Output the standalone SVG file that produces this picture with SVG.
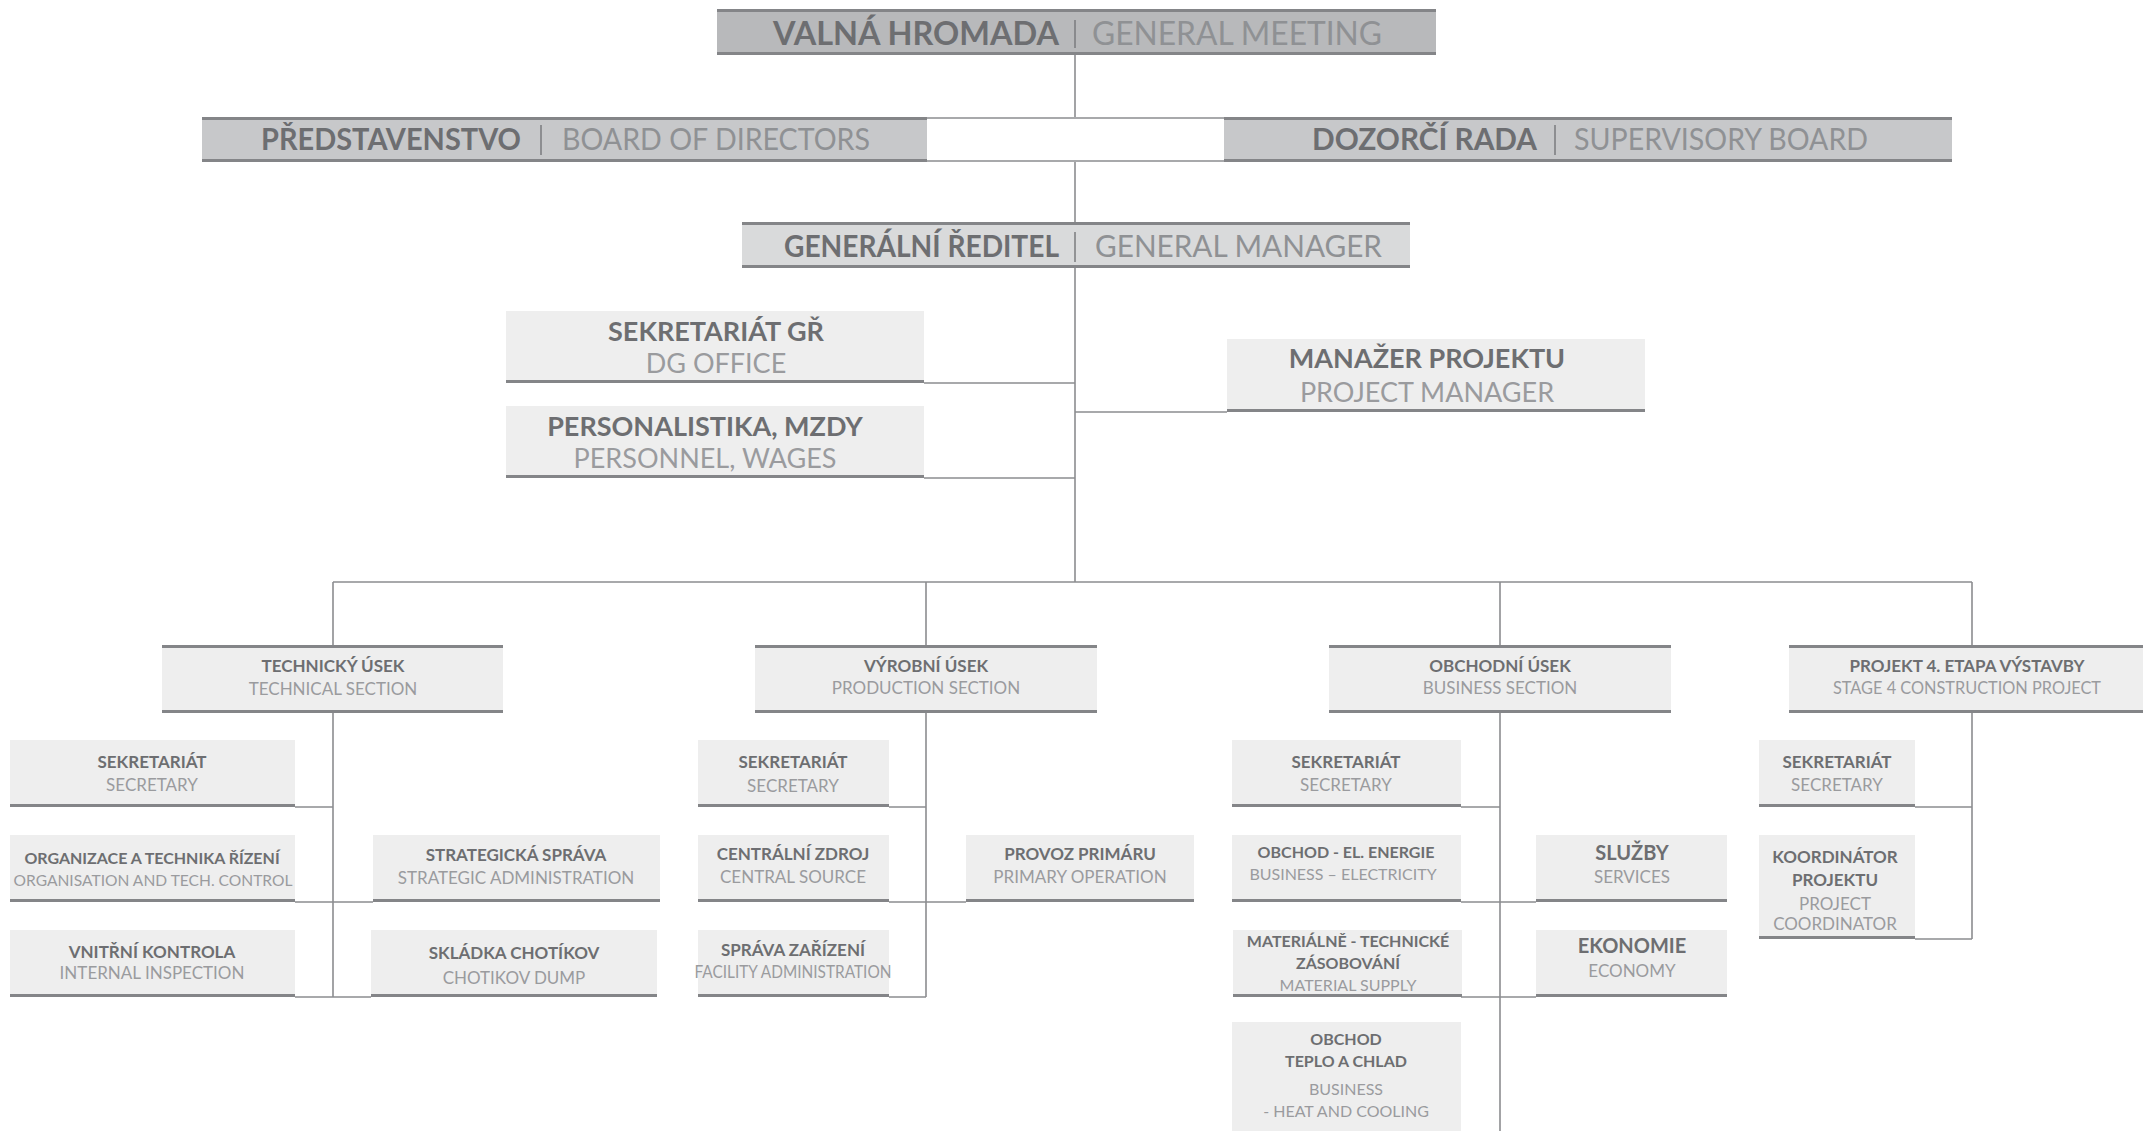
<svg xmlns="http://www.w3.org/2000/svg" width="2150" height="1131" viewBox="0 0 2150 1131">
<style>
text{font-family:Lato,"Open Sans","Liberation Sans",sans-serif;text-anchor:middle}
.cz{font-weight:700;fill:#6d6e71}
.en{font-weight:400;fill:#9a9b9e}
.ent{font-weight:400;fill:#8f9194}
.st{text-anchor:end}
.sl{text-anchor:start}
.t1{font-size:33px}
.t2{font-size:31px}
.t3{font-size:27px}
.t4{font-size:17px}
.t5{font-size:16px}
.t6{font-size:20px}
.bd{stroke:#848588;stroke-width:3;fill:none}
.sep{stroke:#7a7b7e;stroke-width:1.5}
.con path{stroke:#8c8d90;stroke-width:1.6;fill:none}
.f0{fill:#b8b9bb}.f1{fill:#c7c8ca}.f2{fill:#d9dadb}.f3{fill:#eeeeee}
</style>
<rect width="2150" height="1131" fill="#ffffff"/>
<g class="con" id="connectors">
<path d="M1075 55V117M1075 162V222M927 118H1224M927 161H1224M1075 268V582"/>
<path d="M924 383H1075M924 478H1075M1075 412H1227"/>
<path d="M333 582H1972M333 582V645M926 582V645M1500 582V645M1972 582V645"/>
<path d="M333 713V997M295 807H333M295 902H373M295 997H371"/>
<path d="M926 713V997M889 807H926M889 902H966M889 997H926"/>
<path d="M1500 713V1131M1461 807H1500M1461 902H1536M1461 997H1536"/>
<path d="M1972 713V939M1915 807H1972M1915 939H1972"/>
</g>
<g id="general-meeting">
<rect class="f0" x="717" y="9" width="719" height="46"/>
<path class="bd" d="M717 10.5H1436M717 53.5H1436"/>
<text class="cz t1 sl" x="773" y="45" textLength="286" lengthAdjust="spacingAndGlyphs">VALNÁ HROMADA</text>
<path class="sep" d="M1075 20V48"/>
<text class="ent t1 sl" x="1092" y="45" textLength="290" lengthAdjust="spacingAndGlyphs">GENERAL MEETING</text>
</g>
<g id="board-of-directors">
<rect class="f1" x="202" y="117" width="725" height="45"/>
<path class="bd" d="M202 118.5H927M202 160.5H927"/>
<text class="cz t2 sl" x="261" y="150" textLength="260" lengthAdjust="spacingAndGlyphs">PŘEDSTAVENSTVO</text>
<path class="sep" d="M541 125V155"/>
<text class="ent t2 sl" x="562" y="150" textLength="308" lengthAdjust="spacingAndGlyphs">BOARD OF DIRECTORS</text>
</g>
<g id="supervisory-board">
<rect class="f1" x="1224" y="117" width="728" height="45"/>
<path class="bd" d="M1224 118.5H1952M1224 160.5H1952"/>
<text class="cz t2 sl" x="1312" y="150" textLength="225" lengthAdjust="spacingAndGlyphs">DOZORČÍ RADA</text>
<path class="sep" d="M1555 125V155"/>
<text class="ent t2 sl" x="1574" y="150" textLength="294" lengthAdjust="spacingAndGlyphs">SUPERVISORY BOARD</text>
</g>
<g id="general-manager">
<rect class="f2" x="742" y="222" width="668" height="46"/>
<path class="bd" d="M742 223.5H1410M742 266.5H1410"/>
<text class="cz t2 sl" x="784" y="257" textLength="275" lengthAdjust="spacingAndGlyphs">GENERÁLNÍ ŘEDITEL</text>
<path class="sep" d="M1075 232V262"/>
<text class="ent t2 sl" x="1095" y="257" textLength="287" lengthAdjust="spacingAndGlyphs">GENERAL MANAGER</text>
</g>
<g id="dg-office">
<rect class="f3" x="506" y="311" width="418" height="72"/>
<path class="bd" d="M506 381.5H924"/>
<text class="cz t3" x="716" y="341">SEKRETARIÁT GŘ</text>
<text class="en t3" x="716" y="373">DG OFFICE</text>
</g>
<g id="personnel">
<rect class="f3" x="506" y="406" width="418" height="72"/>
<path class="bd" d="M506 476.5H924"/>
<text class="cz t3" x="705" y="436">PERSONALISTIKA, MZDY</text>
<text class="en t3" x="705" y="468">PERSONNEL, WAGES</text>
</g>
<g id="project-manager">
<rect class="f3" x="1227" y="339" width="418" height="73"/>
<path class="bd" d="M1227 410.5H1645"/>
<text class="cz t3" x="1427" y="368">MANAŽER PROJEKTU</text>
<text class="en t3" x="1427" y="402">PROJECT MANAGER</text>
</g>
<g id="technical-section">
<rect class="f3" x="162" y="645" width="341" height="68"/>
<path class="bd" d="M162 646.5H503M162 711.5H503"/>
<text class="cz t4" x="333" y="672">TECHNICKÝ ÚSEK</text>
<text class="en t4" x="333" y="695">TECHNICAL SECTION</text>
</g>
<g id="production-section">
<rect class="f3" x="755" y="645" width="342" height="68"/>
<path class="bd" d="M755 646.5H1097M755 711.5H1097"/>
<text class="cz t4" x="926" y="672">VÝROBNÍ ÚSEK</text>
<text class="en t4" x="926" y="694">PRODUCTION SECTION</text>
</g>
<g id="business-section">
<rect class="f3" x="1329" y="645" width="342" height="68"/>
<path class="bd" d="M1329 646.5H1671M1329 711.5H1671"/>
<text class="cz t4" x="1500" y="672">OBCHODNÍ ÚSEK</text>
<text class="en t4" x="1500" y="694">BUSINESS SECTION</text>
</g>
<g id="stage4-project">
<rect class="f3" x="1789" y="645" width="354" height="68"/>
<path class="bd" d="M1789 646.5H2143M1789 711.5H2143"/>
<text class="cz t4" x="1967" y="672">PROJEKT 4. ETAPA VÝSTAVBY</text>
<text class="en t4" x="1967" y="694" textLength="268" lengthAdjust="spacingAndGlyphs">STAGE 4 CONSTRUCTION PROJECT</text>
</g>
<g id="tech-secretary">
<rect class="f3" x="10" y="740" width="285" height="67"/>
<path class="bd" d="M10 805.5H295"/>
<text class="cz t4" x="152" y="768">SEKRETARIÁT</text>
<text class="en t4" x="152" y="791">SECRETARY</text>
</g>
<g id="tech-organisation">
<rect class="f3" x="10" y="835" width="285" height="67"/>
<path class="bd" d="M10 900.5H295"/>
<text class="cz t5" x="152" y="864">ORGANIZACE A TECHNIKA ŘÍZENÍ</text>
<text class="en t5" x="153" y="886" textLength="279" lengthAdjust="spacingAndGlyphs">ORGANISATION AND TECH. CONTROL</text>
</g>
<g id="tech-internal-inspection">
<rect class="f3" x="10" y="930" width="285" height="67"/>
<path class="bd" d="M10 995.5H295"/>
<text class="cz t4" x="152" y="958">VNITŘNÍ KONTROLA</text>
<text class="en t4" x="152" y="979">INTERNAL INSPECTION</text>
</g>
<g id="tech-strategic">
<rect class="f3" x="373" y="835" width="287" height="67"/>
<path class="bd" d="M373 900.5H660"/>
<text class="cz t4" x="516" y="861">STRATEGICKÁ SPRÁVA</text>
<text class="en t4" x="516" y="884">STRATEGIC ADMINISTRATION</text>
</g>
<g id="tech-dump">
<rect class="f3" x="371" y="930" width="286" height="67"/>
<path class="bd" d="M371 995.5H657"/>
<text class="cz t4" x="514" y="959">SKLÁDKA CHOTÍKOV</text>
<text class="en t4" x="514" y="984">CHOTIKOV DUMP</text>
</g>
<g id="prod-secretary">
<rect class="f3" x="698" y="740" width="191" height="67"/>
<path class="bd" d="M698 805.5H889"/>
<text class="cz t4" x="793" y="768">SEKRETARIÁT</text>
<text class="en t4" x="793" y="792">SECRETARY</text>
</g>
<g id="prod-central-source">
<rect class="f3" x="698" y="835" width="191" height="67"/>
<path class="bd" d="M698 900.5H889"/>
<text class="cz t4" x="793" y="860">CENTRÁLNÍ ZDROJ</text>
<text class="en t4" x="793" y="883">CENTRAL SOURCE</text>
</g>
<g id="prod-facility">
<rect class="f3" x="698" y="930" width="191" height="67"/>
<path class="bd" d="M698 995.5H889"/>
<text class="cz t4" x="793" y="956">SPRÁVA ZAŘÍZENÍ</text>
<text class="en t4" x="793" y="978" textLength="197" lengthAdjust="spacingAndGlyphs">FACILITY ADMINISTRATION</text>
</g>
<g id="prod-primary">
<rect class="f3" x="966" y="835" width="228" height="67"/>
<path class="bd" d="M966 900.5H1194"/>
<text class="cz t4" x="1080" y="860">PROVOZ PRIMÁRU</text>
<text class="en t4" x="1080" y="883">PRIMARY OPERATION</text>
</g>
<g id="bus-secretary">
<rect class="f3" x="1232" y="740" width="229" height="67"/>
<path class="bd" d="M1232 805.5H1461"/>
<text class="cz t4" x="1346" y="768">SEKRETARIÁT</text>
<text class="en t4" x="1346" y="791">SECRETARY</text>
</g>
<g id="bus-electricity">
<rect class="f3" x="1232" y="835" width="229" height="67"/>
<path class="bd" d="M1232 900.5H1461"/>
<text class="cz t5" x="1346" y="858">OBCHOD - EL. ENERGIE</text>
<text class="en t5" x="1343" y="880">BUSINESS – ELECTRICITY</text>
</g>
<g id="bus-material">
<rect class="f3" x="1233" y="930" width="229" height="67"/>
<path class="bd" d="M1233 995.5H1462"/>
<text class="cz t5" x="1348" y="947">MATERIÁLNĚ - TECHNICKÉ</text>
<text class="cz t5" x="1348" y="969">ZÁSOBOVÁNÍ</text>
<text class="en t5" x="1348" y="991">MATERIAL SUPPLY</text>
</g>
<g id="bus-heat">
<rect class="f3" x="1232" y="1022" width="229" height="109"/>
<text class="cz t5" x="1346" y="1045">OBCHOD</text>
<text class="cz t5" x="1346" y="1067">TEPLO A CHLAD</text>
<text class="en t5" x="1346" y="1095">BUSINESS</text>
<text class="en t5" x="1346" y="1117">- HEAT AND COOLING</text>
</g>
<g id="bus-services">
<rect class="f3" x="1536" y="835" width="191" height="67"/>
<path class="bd" d="M1536 900.5H1727"/>
<text class="cz t6" x="1632" y="860">SLUŽBY</text>
<text class="en t4" x="1632" y="883">SERVICES</text>
</g>
<g id="bus-economy">
<rect class="f3" x="1536" y="930" width="191" height="67"/>
<path class="bd" d="M1536 995.5H1727"/>
<text class="cz t6" x="1632" y="953">EKONOMIE</text>
<text class="en t4" x="1632" y="977">ECONOMY</text>
</g>
<g id="proj-secretary">
<rect class="f3" x="1759" y="740" width="156" height="67"/>
<path class="bd" d="M1759 805.5H1915"/>
<text class="cz t4" x="1837" y="768">SEKRETARIÁT</text>
<text class="en t4" x="1837" y="791">SECRETARY</text>
</g>
<g id="proj-coordinator">
<rect class="f3" x="1759" y="835" width="156" height="104"/>
<path class="bd" d="M1759 937.5H1915"/>
<text class="cz t4" x="1835" y="863">KOORDINÁTOR</text>
<text class="cz t4" x="1835" y="886">PROJEKTU</text>
<text class="en t4" x="1835" y="910">PROJECT</text>
<text class="en t4" x="1835" y="930">COORDINATOR</text>
</g>
</svg>
